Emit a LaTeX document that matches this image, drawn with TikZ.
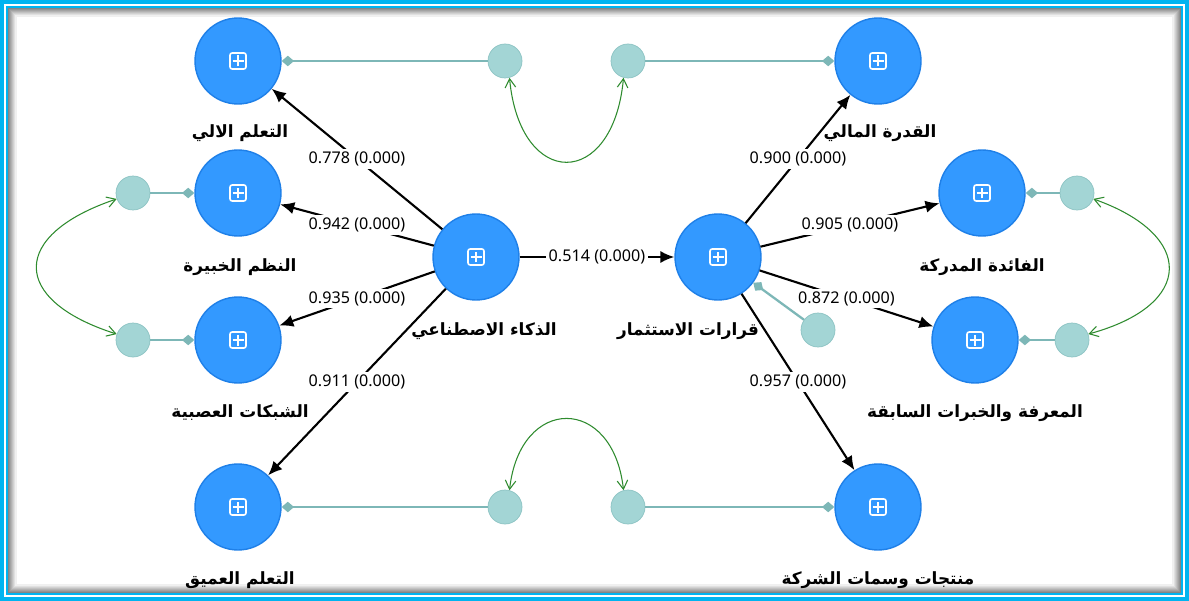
\documentclass[tikz,border=0pt]{standalone}
\usepackage{fontspec}
\setmainfont{Noto Sans}
\newfontfamily\arabicfont[Script=Arabic]{DejaVu Sans}
\TeXXeTstate=1
\usetikzlibrary{arrows.meta}
\definecolor{nodeblue}{HTML}{3399FF}
\definecolor{rimblue}{HTML}{1F80E8}
\definecolor{errteal}{HTML}{A3D5D5}
\definecolor{errrim}{HTML}{8CC3C3}
\definecolor{linkteal}{HTML}{7DB7B7}
\definecolor{covgreen}{HTML}{2E8B2E}
\definecolor{framecyan}{HTML}{00B4F0}

\begin{document}
\begin{tikzpicture}[x=0.02cm,y=-0.02cm,>=Latex,
 every node/.style={align=center},
 latent/.style={circle,minimum size=1.72cm,inner sep=0pt,fill=nodeblue,draw=rimblue,line width=0.8pt,
  path picture={
   \draw[white,line width=0.9pt,rounded corners=1.2pt]
    ([shift={(-0.16cm,-0.16cm)}]path picture bounding box.center) rectangle ([shift={(0.16cm,0.16cm)}]path picture bounding box.center);
   \draw[white,line width=0.9pt]
    ([yshift=-0.11cm]path picture bounding box.center) -- ([yshift=0.11cm]path picture bounding box.center)
    ([xshift=-0.11cm]path picture bounding box.center) -- ([xshift=0.11cm]path picture bounding box.center);}},
 resid/.style={circle,minimum size=0.68cm,inner sep=0pt,fill=errteal,draw=errrim,line width=0.4pt},
 varname/.style={font={\fontsize{9.6}{12}\selectfont\arabicfont\bfseries}},
 coef/.style={fill=white,inner sep=1.5pt,font={\fontsize{9.2}{11}\selectfont}},
 effect/.style={-{Latex[length=8pt,width=7pt]},line width=1.2pt},
 loading/.style={-{Diamond[length=7pt,width=6pt]},linkteal,line width=1.3pt},
 cov/.style={{Straight Barb[length=5pt,width=6pt]}-{Straight Barb[length=5pt,width=6pt]},covgreen,line width=0.6pt}]

\useasboundingbox (0,0) rectangle (1189,601);
\fill[white] (0,0) rectangle (1189,601);
\foreach \i [evaluate=\i as \g using 48-6*\i] in {0,...,7}
 \draw[black!\g,line width=0.6pt] (9+\i,9+\i) rectangle (1180-\i,592-\i);
\draw[framecyan,line width=2.3pt] (2,2) rectangle (1187,599);
\draw[framecyan,line width=1.1pt] (7,7) rectangle (1182,594);

% constructs
\node[latent] (ai) at (476,257) {};
\node[latent] (inv) at (718,257) {};
\node[latent] (ml) at (238,61) {};
\node[latent] (es) at (238,193) {};
\node[latent] (nn) at (238,340) {};
\node[latent] (dl) at (238,507) {};
\node[latent] (fin) at (878,61) {};
\node[latent] (use) at (982,193) {};
\node[latent] (know) at (975,340) {};
\node[latent] (prod) at (878,507) {};

\node[varname] (ai-t) at (484,331) {\beginR الذكاء الاصطناعي\endR};
\node[varname] (inv-t) at (688,331) {\beginR قرارات الاستثمار\endR};
\node[varname] (ml-t) at (240,133) {\beginR التعلم الالي\endR};
\node[varname] (es-t) at (240,267) {\beginR النظم الخبيرة\endR};
\node[varname] (nn-t) at (240,413) {\beginR الشبكات العصبية\endR};
\node[varname] (dl-t) at (240,580) {\beginR التعلم العميق\endR};
\node[varname] (fin-t) at (880,133) {\beginR القدرة المالي\endR};
\node[varname] (use-t) at (982,267) {\beginR الفائدة المدركة\endR};
\node[varname] (know-t) at (975,413) {\beginR المعرفة والخبرات السابقة\endR};
\node[varname] (prod-t) at (878,580) {\beginR منتجات وسمات الشركة\endR};

% residual terms
\node[resid] (ml-e) at (505,61) {};
\node[resid] (fin-e) at (628,61) {};
\node[resid] (es-e) at (133,193) {};
\node[resid] (nn-e) at (133,340) {};
\node[resid] (use-e) at (1077,193) {};
\node[resid] (know-e) at (1072,340) {};
\node[resid] (dl-e) at (505,507) {};
\node[resid] (prod-e) at (628,507) {};
\node[resid] (inv-e) at (818,330) {};

\draw[loading] (ml-e) -- (ml);
\draw[loading] (fin-e) -- (fin);
\draw[loading] (es-e) -- (es);
\draw[loading] (nn-e) -- (nn);
\draw[loading] (use-e) -- (use);
\draw[loading] (know-e) -- (know);
\draw[loading] (dl-e) -- (dl);
\draw[loading] (prod-e) -- (prod);
\draw[loading] (inv-e) -- (inv);

\draw[cov] (ml-e.-75) .. controls (520,190) and (613,190) .. (fin-e.-105);
\draw[cov] (es-e.200) .. controls (10,235) and (10,300) .. (nn-e.160);
\draw[cov] (use-e.-20) .. controls (1195,235) and (1195,305) .. (know-e.20);
\draw[cov] (dl-e.75) .. controls (520,395) and (613,395) .. (prod-e.105);

% structural paths
\draw[effect] (ai) -- node[coef] {0.778 (0.000)} (ml);
\draw[effect] (ai) -- node[coef] {0.942 (0.000)} (es);
\draw[effect] (ai) -- node[coef] {0.935 (0.000)} (nn);
\draw[effect] (ai) -- node[coef] {0.911 (0.000)} (dl);
\draw[effect] (ai) -- node[coef] {0.514 (0.000)} (inv);
\draw[effect] (inv) -- node[coef] {0.900 (0.000)} (fin);
\draw[effect] (inv) -- node[coef] {0.905 (0.000)} (use);
\draw[effect] (inv) -- node[coef] {0.872 (0.000)} (know);
\draw[effect] (inv) -- node[coef] {0.957 (0.000)} (prod);
\end{tikzpicture}
\end{document}
